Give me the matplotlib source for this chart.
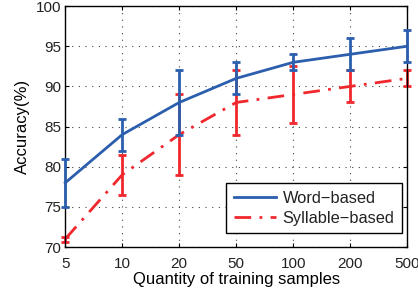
import matplotlib.pyplot as plt
import numpy as np

plt.rcParams['font.family'] = ['Liberation Sans', 'DejaVu Sans']
plt.rcParams['text.color'] = '#222222'
plt.rcParams['xtick.labelcolor'] = '#222222'
plt.rcParams['ytick.labelcolor'] = '#222222'

samples = ['5', '10', '20', '50', '100', '200', '500']
word_acc = [78, 84, 88, 91, 93, 94, 95]
word_low = [75, 82, 84, 89, 92, 92, 93]
word_high = [81, 86, 92, 93, 94, 96, 97]
syl_acc = [71, 79, 84, 88, 89, 90, 91]
syl_low = [70.6, 76.5, 79, 84, 85.5, 88, 90]
syl_high = [71.2, 81.5, 89, 92, 92.5, 92, 92]

blue = '#2b5fae'
red = '#f0282d'

fig = plt.figure(figsize=(4.18, 2.9), dpi=100)
ax = fig.add_axes([0.156, 0.148, 0.818, 0.831])

x = np.arange(len(samples))
w = np.array(word_acc)
s = np.array(syl_acc)
eb1 = ax.errorbar(x, w, yerr=[w - np.array(word_low), np.array(word_high) - w],
                  color=blue, lw=2, capsize=3, capthick=2, elinewidth=2,
                  zorder=3, clip_on=False)
eb2 = ax.errorbar(x, s, yerr=[s - np.array(syl_low), np.array(syl_high) - s],
                  color=red, lw=2, ls=(0, (6, 3, 1, 3)), capsize=3, capthick=2,
                  elinewidth=2, zorder=2, clip_on=False)

ax.set_xlim(0, len(samples) - 1)
ax.set_ylim(70, 100)
ax.set_xticks(x)
ax.set_xticklabels(samples)
ax.set_yticks([70, 75, 80, 85, 90, 95, 100])
ax.grid(True, ls=(0, (1, 5)), color='#444444', lw=0.8)
ax.tick_params(direction='in', labelsize=11, length=3, top=True, right=True)
ax.tick_params(axis='x', pad=7)
ax.tick_params(axis='y', pad=3)
for sp in ax.spines.values():
    sp.set_linewidth(1)
ax.set_xlabel('Quantity of training samples', fontsize=12, labelpad=1)
ax.set_ylabel('Accuracy(%)', fontsize=12, labelpad=4)

leg = ax.legend([eb1.lines[0], eb2.lines[0]], ['Word\u2212based', 'Syllable\u2212based'],
                loc='lower right', fontsize=11.8, fancybox=False,
                edgecolor='black', framealpha=1, handlelength=2.6,
                borderpad=0.45, labelspacing=0.3, handletextpad=0.4,
                borderaxespad=0, bbox_to_anchor=(0.985, 0.058))
leg.get_frame().set_linewidth(1)

fig.savefig('out.png', dpi=100)
